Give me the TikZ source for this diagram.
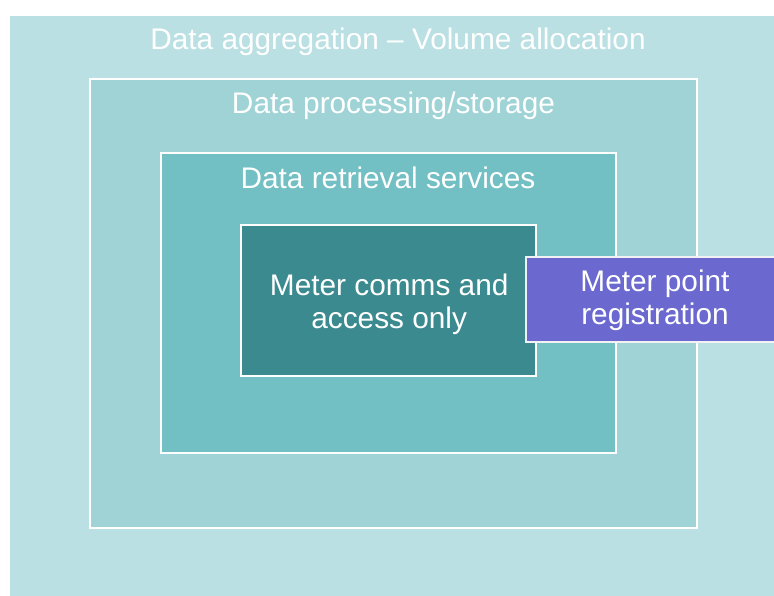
\documentclass[tikz,border=0pt]{standalone}
\usepackage{fontspec}
\setmainfont{Liberation Sans}
\definecolor{cA}{HTML}{BBE0E3}
\definecolor{cB}{HTML}{9FD3D6}
\definecolor{cC}{HTML}{72BFC4}
\definecolor{cD}{HTML}{3B8A8F}
\definecolor{cP}{HTML}{6B69CF}
\begin{document}
\begin{tikzpicture}[x=1pt,y=-1pt,
  layer/.style={draw=white, line width=1.2pt, inner sep=0pt, outer sep=0pt, anchor=north west},
  lbl/.style={text=white, inner sep=0pt, font=\fontsize{29.8}{33.5}\selectfont, align=center}]
\useasboundingbox (0,0) rectangle (774,596);
\fill[white] (0,0) rectangle (774,596);
\clip (0,0) rectangle (774,596);
\node[layer, fill=cA, minimum width=800pt, minimum height=600pt] (agg) at (9,15) {};
\node[layer, fill=cB, minimum width=607pt, minimum height=449pt] (proc) at (90,79) {};
\node[layer, fill=cC, minimum width=455pt, minimum height=300pt] (retr) at (161,153) {};
\node[layer, fill=cD, minimum width=295pt, minimum height=151pt] (comms) at (241,225) {};
\node[layer, draw=white!90!gray, fill=cP, minimum width=256pt, minimum height=85pt] (reg) at (526,257) {};
\node[lbl, anchor=base] (taggr) at (398,49.5) {Data aggregation – Volume allocation};
\node[lbl, anchor=base] (tproc) at (393.5,114) {Data processing/storage};
\node[lbl, anchor=base] (tretr) at (388,188.3) {Data retrieval services};
\node[lbl, anchor=center] (tcomms) at (389.2,304.5) {Meter comms and\\access only};
\node[lbl, anchor=center] (treg) at (655,300.5) {Meter point\\registration};
\end{tikzpicture}
\end{document}
